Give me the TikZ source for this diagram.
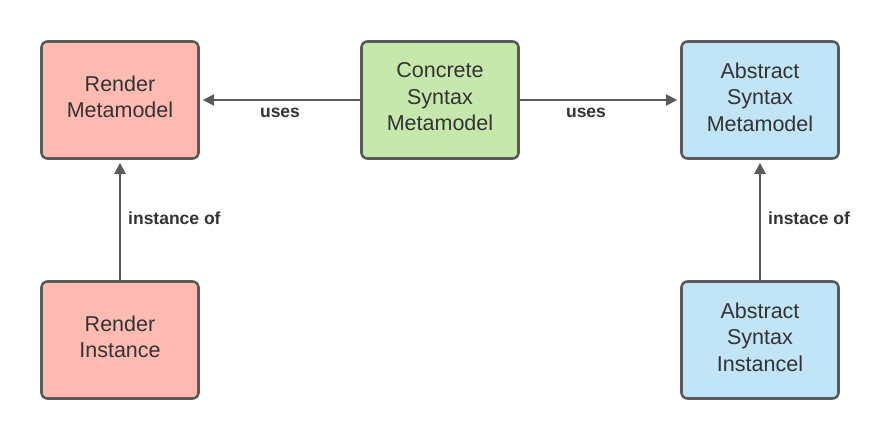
\documentclass[tikz,border=0pt]{standalone}
\usepackage{fontspec}
\setmainfont{Liberation Sans}
\usetikzlibrary{arrows.meta}
\definecolor{pinkfill}{HTML}{FFBBB1}
\definecolor{greenfill}{HTML}{C7E8AC}
\definecolor{bluefill}{HTML}{C1E4F7}
\definecolor{boxline}{HTML}{5A5A5A}
\definecolor{txt}{HTML}{333333}
\tikzset{
  box/.style={draw=boxline, line width=2.6pt, rounded corners=6pt, minimum width=157pt, minimum height=117pt, align=center, font=\fontsize{21.5}{26.5}\selectfont, text=txt, inner sep=0pt},
  conn/.style={draw=boxline, line width=2pt, -{Triangle[length=11pt,width=11pt]}, shorten >=3pt},
  lbl/.style={font=\bfseries\fontsize{17.5}{20}\selectfont, text=txt, inner sep=0pt}
}
\begin{document}
\begin{tikzpicture}[x=1pt,y=-1pt]
\useasboundingbox (0,0) rectangle (891,440);
\node[box, fill=pinkfill] (rm) at (120,100) {};
\node[box, fill=greenfill] (cs) at (440,100) {};
\node[box, fill=bluefill] (am) at (760,100) {};
\node[box, fill=pinkfill] (ri) at (120,340) {};
\node[box, fill=bluefill] (ai) at (760,340) {};
\node[box, draw=none, fill=none] (rmt) at (120,97) {Render\\Metamodel};
\node[box, draw=none, fill=none] (cst) at (440,97) {Concrete\\Syntax\\Metamodel};
\node[box, draw=none, fill=none] (amt) at (760,97) {Abstract\\Syntax\\Metamodel};
\node[box, draw=none, fill=none] (rit) at (120,337) {Render\\Instance};
\node[box, draw=none, fill=none] (ait) at (760,337) {Abstract\\Syntax\\Instancel};
\draw[conn] (cs.west) -- (rm.east);
\draw[conn] (cs.east) -- (am.west);
\draw[conn] (ri.north) -- (rm.south);
\draw[conn] (ai.north) -- (am.south);
\node[lbl] (l1) at (280,113) {uses};
\node[lbl] (l2) at (586,113) {uses};
\node[lbl, anchor=west] (l3) at (128,218) {instance of};
\node[lbl, anchor=west] (l4) at (768,218) {instace of};
\end{tikzpicture}
\end{document}
